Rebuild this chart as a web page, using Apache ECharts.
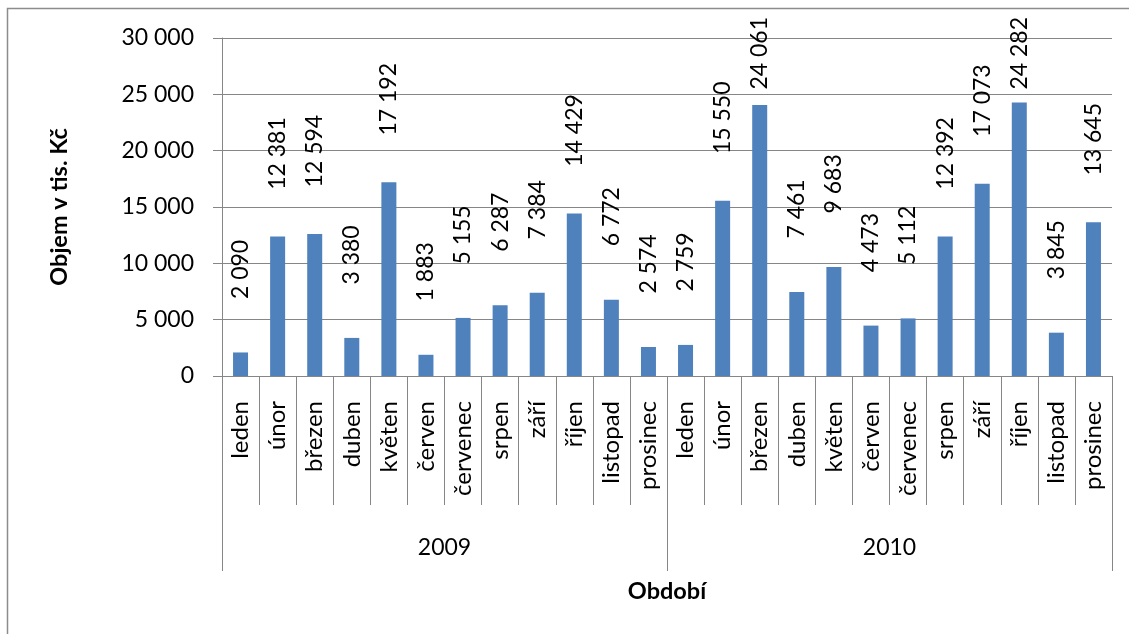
<!DOCTYPE html>
<html>
<head>
<meta charset="utf-8">
<script src="https://cdn.jsdelivr.net/npm/echarts@6/dist/echarts.min.js"></script>
<style>
  html, body { margin: 0; padding: 0; background: #ffffff; }
  #chart { width: 1129px; height: 634px; }
</style>
</head>
<body>
<div id="chart"></div>
<script>
// Monthly volumes (thousand CZK) for two years
const months = ['leden', 'únor', 'březen', 'duben', 'květen', 'červen',
  'červenec', 'srpen', 'září', 'říjen', 'listopad', 'prosinec'];
const years = ['2009', '2010'];
const values2009 = [2090, 12381, 12594, 3380, 17192, 1883, 5155, 6287, 7384, 14429, 6772, 2574];
const values2010 = [2759, 15550, 24061, 7461, 9683, 4473, 5112, 12392, 17073, 24282, 3845, 13645];
const yTicks = [0, 5000, 10000, 15000, 20000, 25000, 30000];

const FONT = 'Lato, "Open Sans", sans-serif';
const GRAY = '#868686';
const TEXT = '#000000';
const LABEL_TOP_LIMIT = 17; // value labels are kept inside the chart frame

function fmt(v) {
  return String(v).replace(/\B(?=(\d{3})+(?!\d))/g, ' ');
}

const monthCats = months.concat(months);
const values = values2009.concat(values2010);

const chart = echarts.init(document.getElementById('chart'));
chart.setOption({
  backgroundColor: '#ffffff',
  animation: false,
  textStyle: { fontFamily: FONT },
  graphic: [{
    type: 'rect',
    shape: { x: 7.5, y: 8.5, width: 1200, height: 700 },
    style: { fill: 'none', stroke: '#8c8c8c', lineWidth: 1.5 },
    silent: true
  }],
  grid: { left: 222, top: 38, right: 17, bottom: 258, containLabel: false },
  xAxis: [{
    type: 'category',
    data: monthCats,
    boundaryGap: true,
    axisLine: { show: true, lineStyle: { color: GRAY, width: 1 } },
    axisTick: { show: true, interval: 0, length: 129, lineStyle: { color: GRAY, width: 1 } },
    axisLabel: {
      interval: 0, rotate: 90, margin: 25,
      color: TEXT, fontSize: 24, fontFamily: FONT
    },
    splitLine: { show: false }
  }, {
    type: 'category',
    data: years,
    position: 'bottom',
    boundaryGap: true,
    axisLine: { show: false },
    axisTick: { show: true, interval: 0, length: 195, lineStyle: { color: GRAY, width: 1 } },
    axisLabel: { interval: 0, margin: 160, color: TEXT, fontSize: 23, fontFamily: FONT },
    name: 'Období',
    nameLocation: 'middle',
    nameGap: 203,
    nameTextStyle: { color: TEXT, fontSize: 23.5, fontWeight: 'bold', fontFamily: FONT },
    splitLine: { show: false }
  }],
  yAxis: {
    type: 'value',
    min: yTicks[0],
    max: yTicks[yTicks.length - 1],
    interval: 5000,
    name: 'Objem v tis. Kč',
    nameLocation: 'middle',
    nameRotate: 90,
    nameGap: 151,
    nameTextStyle: { color: TEXT, fontSize: 23.5, fontWeight: 'bold', fontFamily: FONT },
    axisLine: { show: true, lineStyle: { color: GRAY, width: 1 } },
    axisTick: { show: true, length: 9, inside: false, lineStyle: { color: GRAY, width: 1 } },
    axisLabel: { margin: 28, color: TEXT, fontSize: 23, fontFamily: FONT, formatter: fmt },
    splitLine: { show: true, lineStyle: { color: GRAY, width: 1 } }
  },
  series: [{
    type: 'bar',
    xAxisIndex: 0,
    data: values,
    barWidth: 15,
    itemStyle: { color: '#4F81BD' },
    label: {
      show: true,
      position: 'top',
      distance: 83,
      rotate: 90,
      align: 'center',
      verticalAlign: 'middle',
      color: TEXT,
      fontSize: 23,
      fontFamily: FONT,
      formatter: p => fmt(p.value)
    },
    // push labels that would leave the frame back down below its top edge
    labelLayout: function (params) {
      const r = params.labelRect;
      if (r && r.y < LABEL_TOP_LIMIT) {
        return {
          x: r.x + r.width / 2,
          y: LABEL_TOP_LIMIT + r.height / 2
        };
      }
      return {};
    }
  }]
});
</script>
</body>
</html>
